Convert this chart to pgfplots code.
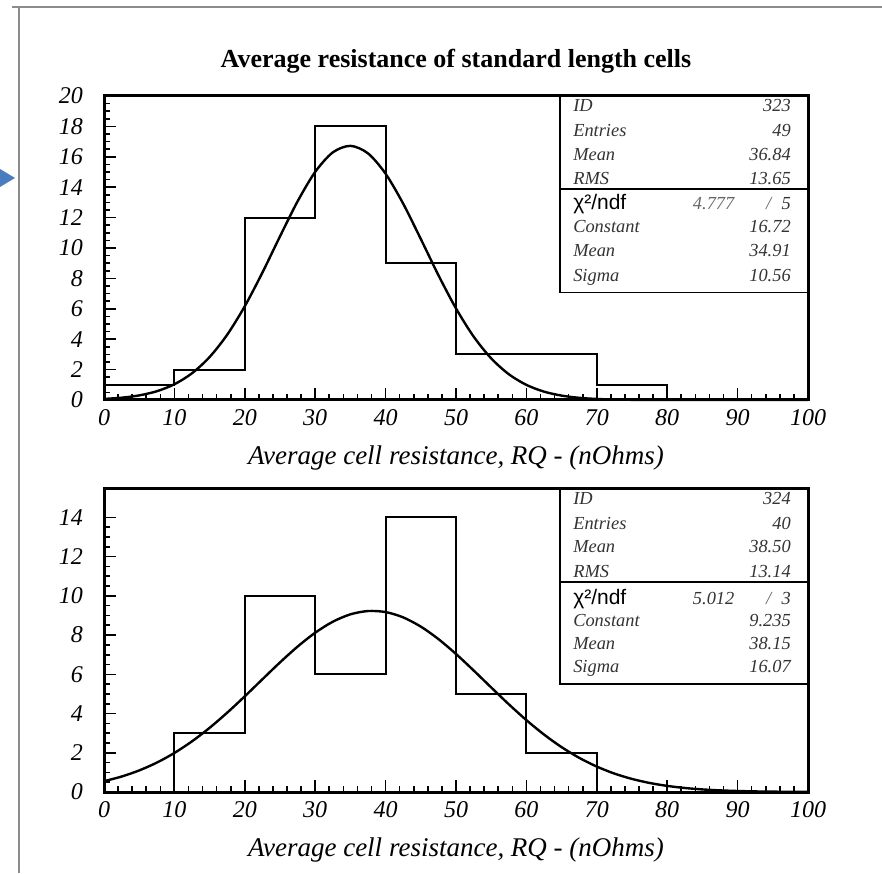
\documentclass[border=0pt]{standalone}
\usepackage{fontspec}
\setmainfont{Liberation Serif}
\newfontfamily\sansf{Liberation Sans}
\usepackage{pgfplots}
\pgfplotsset{compat=1.18}
\definecolor{arrowblue}{HTML}{4A7CC0}
\definecolor{framegray}{HTML}{8C8C8C}
\newcommand\statfont{\fontsize{9.2}{10}\selectfont\itshape}
\pgfplotsset{
  histax/.style={
    scale only axis, width=352pt, height=152pt,
    xmin=0, xmax=100, ymin=0,
    xtick={0,10,...,100}, minor x tick num=4, minor y tick num=3,
    tick align=inside, xtick pos=bottom, ytick pos=left,
    axis line style={line width=1.5pt},
    major tick length=6pt, minor tick length=3pt,
    every tick/.style={line width=0.8pt, black},
    tick label style={font=\fontsize{12}{13}\selectfont\itshape},
    /pgf/number format/assume math mode=true,
    yticklabel style={xshift=-7pt},
    xticklabel style={yshift=-1pt},
    xlabel={Average cell resistance, RQ - (nOhms)},
    xlabel style={font=\fontsize{13.5}{15}\selectfont\itshape, at={(axis description cs:0.5,-0.192)}, anchor=center},
    clip=false,
  },
}
\tikzset{
  stl/.style={anchor=west, font=\statfont, text=black!80, text height=6.5pt, text depth=2pt, inner sep=0pt},
  stv/.style={anchor=east, font=\statfont, text=black!80, text height=6.5pt, text depth=2pt, inner sep=0pt},
}
\begin{document}
\begin{tikzpicture}
\path[use as bounding box] (0,0) rectangle (441pt,436.5pt);
\draw[framegray, line width=1pt] (6pt,432.75pt) -- (441pt,432.75pt);
\draw[framegray, line width=1pt] (9.25pt,432.75pt) -- (9.25pt,0pt);
\fill[arrowblue] (0pt,352pt) -- (7.5pt,347.5pt) -- (0pt,343pt) -- cycle;
\node[font=\fontsize{13}{15}\selectfont\bfseries] at (228pt,406pt) {Average resistance of standard length cells};

% ---------------- top histogram ----------------
\begin{axis}[histax, at={(52pt,236.5pt)}, anchor=south west,
  ymax=20, ytick={0,2,...,20}]
\addplot[const plot, line width=1pt] coordinates {
(0,1) (10,2) (20,12) (30,18) (40,9) (50,3) (60,3) (70,1) (80,0)};
\addplot[smooth, line width=1.2pt] coordinates {
(0,0.071) (2.5,0.151) (5,0.303) (7.5,0.576) (10,1.035) (12.5,1.759) (15,2.827)
(17.5,4.295) (20,6.171) (22.5,8.382) (25,10.765) (27.5,13.071) (30,15.007)
(32.5,16.290) (35,16.719) (37.5,16.225) (40,14.886) (42.5,12.914) (45,10.592)
(47.5,8.214) (50,6.023) (52.5,4.176) (55,2.737) (57.5,1.696) (60,0.994)
(62.5,0.551) (65,0.289) (67.5,0.143) (70,0.067) (72.5,0.030) (75,0.012)
(80,0.002) (85,0) (100,0)};
\draw[line width=0.8pt] (rel axis cs:0.648,1) -- (rel axis cs:0.648,0.354) -- (rel axis cs:1,0.354);
\draw[line width=0.8pt] (rel axis cs:0.648,0.694) -- (rel axis cs:1,0.694);
\node[stl] at (rel axis cs:0.666,0.963) {ID};
\node[stl] at (rel axis cs:0.666,0.880) {Entries};
\node[stl] at (rel axis cs:0.666,0.801) {Mean};
\node[stl] at (rel axis cs:0.666,0.724) {RMS};
\node[stl, font=\fontsize{10.5}{12}\selectfont\sansf, text=black] at (rel axis cs:0.666,0.640) {χ²/ndf};
\node[stl] at (rel axis cs:0.666,0.565) {Constant};
\node[stl] at (rel axis cs:0.666,0.487) {Mean};
\node[stl] at (rel axis cs:0.666,0.406) {Sigma};
\node[stv] at (rel axis cs:0.976,0.963) {323};
\node[stv] at (rel axis cs:0.976,0.880) {49};
\node[stv] at (rel axis cs:0.976,0.801) {36.84};
\node[stv] at (rel axis cs:0.976,0.724) {13.65};
\node[stv, text=black!60] at (rel axis cs:0.896,0.640) {4.777};
\node[stl, anchor=center, text=black!60] at (rel axis cs:0.944,0.640) {/};
\node[stv] at (rel axis cs:0.976,0.640) {5};
\node[stv] at (rel axis cs:0.976,0.565) {16.72};
\node[stv] at (rel axis cs:0.976,0.487) {34.91};
\node[stv] at (rel axis cs:0.976,0.406) {10.56};
\end{axis}

% ---------------- bottom histogram ----------------
\begin{axis}[histax, at={(52pt,40.5pt)}, anchor=south west,
  ymax=15.5, ytick={0,2,...,14}]
\addplot[const plot, line width=1pt] coordinates {
(0,0) (10,3) (20,10) (30,6) (40,14) (50,5) (60,2) (70,0)};
\addplot[smooth, line width=1.2pt] coordinates {
(0,0.552) (2.5,0.788) (5,1.100) (7.5,1.498) (10,1.991) (12.5,2.584) (15,3.272)
(17.5,4.045) (20,4.880) (22.5,5.748) (25,6.608) (27.5,7.414) (30,8.121)
(32.5,8.682) (35,9.059) (37.5,9.227) (40,9.174) (42.5,8.903) (45,8.433)
(47.5,7.797) (50,7.037) (52.5,6.198) (55,5.330) (57.5,4.473) (60,3.664)
(62.5,2.930) (65,2.287) (67.5,1.742) (70,1.296) (72.5,0.940) (75,0.666)
(77.5,0.461) (80,0.311) (82.5,0.205) (85,0.132) (87.5,0.083) (90,0.051)
(92.5,0.030) (95,0.018) (97.5,0.010) (100,0.006)};
\draw[line width=0.8pt] (rel axis cs:0.648,1) -- (rel axis cs:0.648,0.356) -- (rel axis cs:1,0.356);
\draw[line width=0.8pt] (rel axis cs:0.648,0.690) -- (rel axis cs:1,0.690);
\node[stl] at (rel axis cs:0.666,0.961) {ID};
\node[stl] at (rel axis cs:0.666,0.878) {Entries};
\node[stl] at (rel axis cs:0.666,0.802) {Mean};
\node[stl] at (rel axis cs:0.666,0.720) {RMS};
\node[stl, font=\fontsize{10.5}{12}\selectfont\sansf, text=black] at (rel axis cs:0.666,0.632) {χ²/ndf};
\node[stl] at (rel axis cs:0.666,0.560) {Constant};
\node[stl] at (rel axis cs:0.666,0.484) {Mean};
\node[stl] at (rel axis cs:0.666,0.407) {Sigma};
\node[stv] at (rel axis cs:0.976,0.961) {324};
\node[stv] at (rel axis cs:0.976,0.878) {40};
\node[stv] at (rel axis cs:0.976,0.802) {38.50};
\node[stv] at (rel axis cs:0.976,0.720) {13.14};
\node[stv] at (rel axis cs:0.896,0.632) {5.012};
\node[stl, anchor=center, text=black!60] at (rel axis cs:0.944,0.632) {/};
\node[stv] at (rel axis cs:0.976,0.632) {3};
\node[stv] at (rel axis cs:0.976,0.560) {9.235};
\node[stv] at (rel axis cs:0.976,0.484) {38.15};
\node[stv] at (rel axis cs:0.976,0.407) {16.07};
\end{axis}
\end{tikzpicture}
\end{document}
